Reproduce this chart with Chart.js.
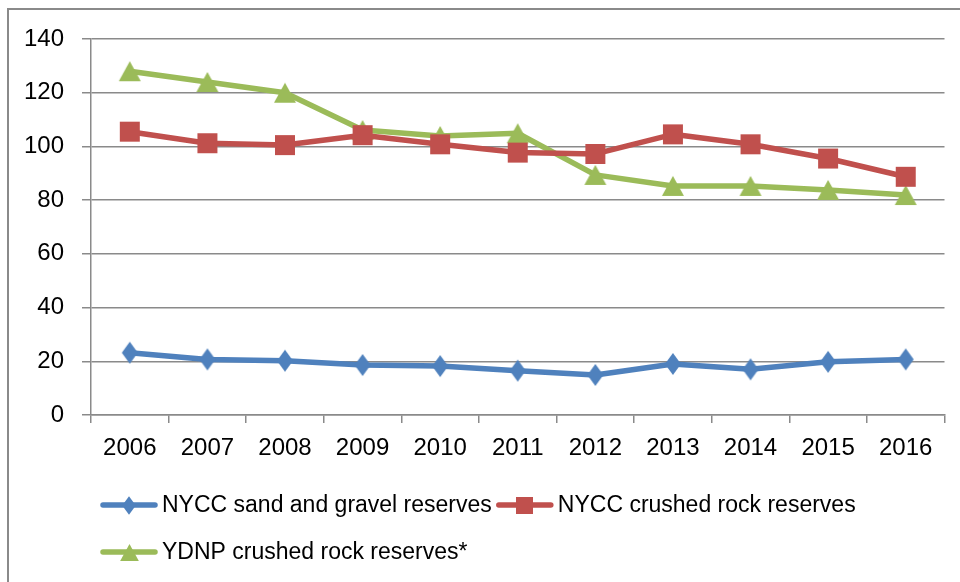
<!DOCTYPE html>
<html>
<head>
<meta charset="utf-8">
<script src="https://cdn.jsdelivr.net/npm/chart.js@4"></script>
<style>
  html, body { margin: 0; padding: 0; background: #fff; }
  #wrap { position: relative; width: 960px; height: 582px; }
</style>
</head>
<body>
<div id="wrap"><canvas id="c" width="960" height="582"></canvas></div>
<script>
const categories = ['2006','2007','2008','2009','2010','2011','2012','2013','2014','2015','2016'];
const sandGravel = [23.2, 20.7, 20.2, 18.6, 18.2, 16.5, 14.9, 19.0, 17.0, 19.8, 20.7];
const nyccRock   = [105.5, 101.2, 100.5, 104.2, 100.8, 97.7, 97.2, 104.5, 100.8, 95.5, 88.7];
const ydnpRock   = [128.0, 124.0, 120.0, 106.1, 103.9, 104.9, 89.4, 85.3, 85.3, 83.8, 81.9];
const seriesNames = ['NYCC sand and gravel reserves', 'NYCC crushed rock reserves', 'YDNP crushed rock reserves*'];
const yTicks = [0, 20, 40, 60, 80, 100, 120, 140];

const BLUE = '#4F81BD', RED = '#C0504D', GREEN = '#9BBB59';
const FONT = '"Liberation Sans", Arial, sans-serif';

function markerImg(shape, color, s) {
  const cv = document.createElement('canvas');
  let w, h;
  if (shape === 'diamond') { w = 16 * s; h = 22 * s; }
  else if (shape === 'square') { w = 20 * s; h = 20 * s; }
  else { w = 22 * s; h = 20 * s; }
  cv.width = Math.ceil(w) + 2; cv.height = Math.ceil(h) + 2;
  const g = cv.getContext('2d');
  const cx = cv.width / 2, cy = cv.height / 2;
  g.fillStyle = color;
  g.beginPath();
  if (shape === 'diamond') {
    g.moveTo(cx, cy - h / 2); g.lineTo(cx + w / 2, cy); g.lineTo(cx, cy + h / 2); g.lineTo(cx - w / 2, cy);
  } else if (shape === 'square') {
    g.rect(cx - w / 2, cy - h / 2, w, h);
  } else {
    g.moveTo(cx, cy - h / 2); g.lineTo(cx + w / 2, cy + h / 2); g.lineTo(cx - w / 2, cy + h / 2);
  }
  g.closePath();
  g.fill();
  return cv;
}

const shapes = ['diamond', 'square', 'triangle'];
const colors = [BLUE, RED, GREEN];
const seriesData = [sandGravel, nyccRock, ydnpRock];
const plotMarkers = shapes.map((s, i) => markerImg(s, colors[i], 1));
const legendMarkers = shapes.map((s, i) => markerImg(s, colors[i], 0.85));

const framePlugin = {
  id: 'frame',
  beforeDraw(chart) {
    const ctx = chart.ctx;
    ctx.save();
    ctx.fillStyle = '#fff';
    ctx.fillRect(0, 0, chart.width, chart.height);
    ctx.strokeStyle = '#8a8a8a';
    ctx.lineWidth = 2;
    ctx.strokeRect(8, 9, 1100, 800);
    ctx.restore();
  }
};

const legendPlugin = {
  id: 'customLegend',
  afterDraw(chart) {
    const ctx = chart.ctx;
    ctx.save();
    ctx.font = '23px ' + FONT;
    ctx.textBaseline = 'middle';
    ctx.textAlign = 'left';
    const startX = 101, rowY = [505, 552], maxX = 946;
    const lineLen = 56, textGap = 5, itemGap = 5;
    let x = startX, row = 0;
    chart.data.datasets.forEach((ds, i) => {
      const tw = ctx.measureText(ds.label).width;
      const itemW = lineLen + textGap + tw;
      if (x !== startX && x + itemW > maxX) { row++; x = startX; }
      const y = rowY[row] !== undefined ? rowY[row] : rowY[0] + row * 47;
      ctx.strokeStyle = ds.borderColor;
      ctx.lineWidth = 5.5;
      ctx.lineCap = 'round';
      ctx.beginPath();
      ctx.moveTo(x + 2, y); ctx.lineTo(x + lineLen - 2, y);
      ctx.stroke();
      const img = legendMarkers[i];
      ctx.drawImage(img, Math.round(x + lineLen / 2 - img.width / 2), Math.round(y - img.height / 2));
      ctx.fillStyle = '#000';
      ctx.fillText(ds.label, x + lineLen + textGap, y + 1);
      x += itemW + itemGap;
    });
    ctx.restore();
  }
};

new Chart(document.getElementById('c'), {
  type: 'line',
  data: {
    labels: categories,
    datasets: seriesData.map((d, i) => ({
      label: seriesNames[i],
      data: d,
      borderColor: colors[i],
      backgroundColor: colors[i],
      borderWidth: 5.5,
      borderJoinStyle: 'round',
      borderCapStyle: 'round',
      pointStyle: plotMarkers[i],
      pointRadius: 10,
      pointHoverRadius: 10,
      tension: 0,
      fill: false
    }))
  },
  options: {
    responsive: false,
    animation: false,
    events: [],
    layout: { padding: { left: 0, top: 39, right: 14, bottom: 0 } },
    plugins: { legend: { display: false }, tooltip: { enabled: false } },
    scales: {
      x: {
        offset: true,
        grid: { offset: true, drawOnChartArea: false, drawTicks: true, tickLength: 8, color: '#8a8a8a', lineWidth: 1.5 },
        border: { display: true, color: '#8a8a8a', width: 1.5 },
        ticks: { color: '#000', font: { family: FONT, size: 24 }, padding: 11, maxRotation: 0, autoSkip: false },
        afterFit(scale) { scale.height = 167; }
      },
      y: {
        min: 0, max: 140,
        afterBuildTicks(scale) { scale.ticks = yTicks.map(v => ({ value: v })); },
        grid: { drawTicks: true, tickLength: 9, color: '#8a8a8a', lineWidth: 1.5 },
        border: { display: true, color: '#8a8a8a', width: 1.5 },
        ticks: { color: '#000', font: { family: FONT, size: 24 }, padding: 18 },
        afterFit(scale) { scale.width = 91; }
      }
    }
  },
  plugins: [framePlugin, legendPlugin]
});
</script>
</body>
</html>
